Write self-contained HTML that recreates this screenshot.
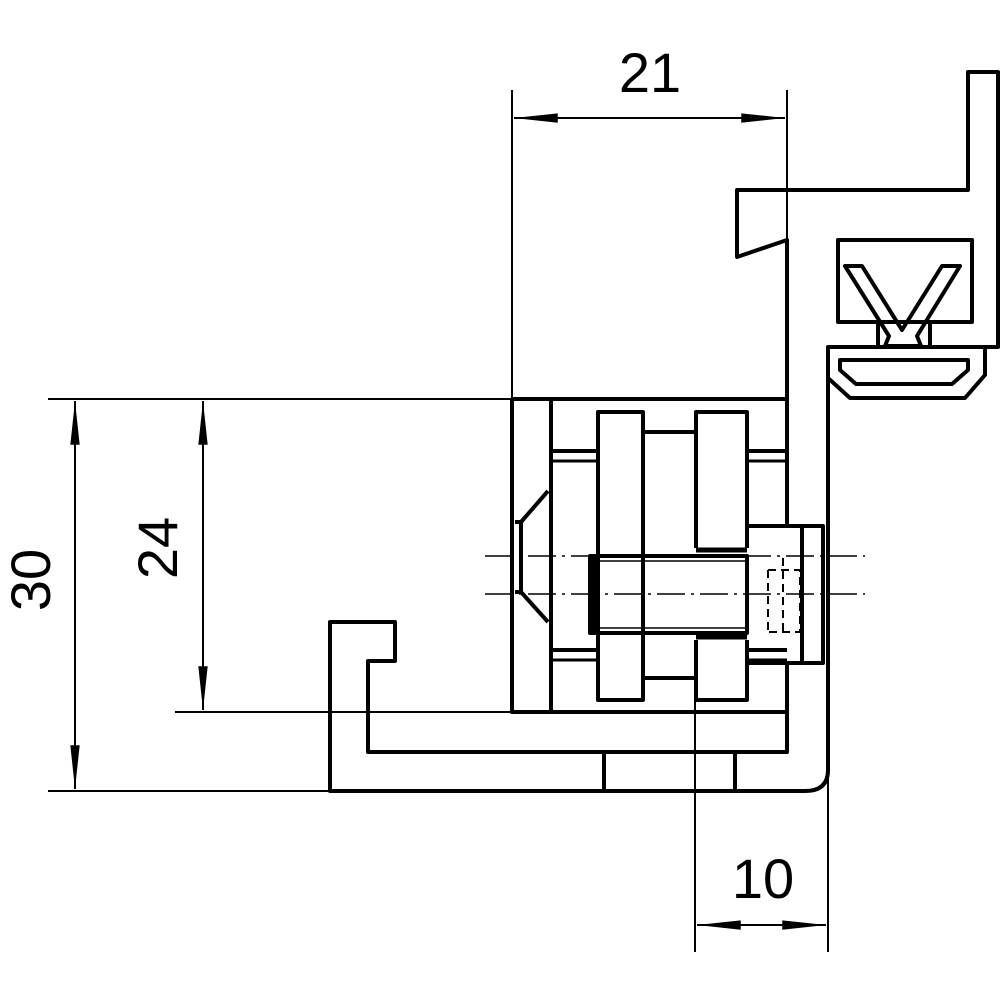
<!DOCTYPE html>
<html><head><style>body{margin:0;background:#fff}svg{display:block}</style></head><body>
<svg width="1000" height="1000" viewBox="0 0 1000 1000" xmlns="http://www.w3.org/2000/svg">
<defs>
<marker id="a" viewBox="0 0 14 4" refX="14" refY="2" markerWidth="44" markerHeight="12.5" markerUnits="userSpaceOnUse" orient="auto-start-reverse"><path d="M0,0.5 L14,2 L0,3.5 Z" fill="#000"/></marker>
</defs>
<g fill="none" stroke="#000" stroke-linejoin="round">
<g stroke-width="2">
<line x1="512" y1="90" x2="512" y2="399"/>
<line x1="787" y1="90" x2="787" y2="240"/>
<line x1="514" y1="118" x2="785" y2="118" marker-start="url(#a)" marker-end="url(#a)"/>
<line x1="48" y1="399" x2="512" y2="399"/>
<line x1="48" y1="791" x2="330" y2="791"/>
<line x1="175" y1="712" x2="512" y2="712"/>
<line x1="75" y1="401" x2="75" y2="789" marker-start="url(#a)" marker-end="url(#a)"/>
<line x1="203" y1="401" x2="203" y2="710" marker-start="url(#a)" marker-end="url(#a)"/>
<line x1="695" y1="678" x2="695" y2="952"/>
<line x1="828" y1="770" x2="828" y2="952"/>
<line x1="697" y1="925" x2="826" y2="925" marker-start="url(#a)" marker-end="url(#a)"/>
</g>
<g stroke-width="1.5" stroke-dasharray="28,6,3,6">
<line x1="485" y1="556" x2="865" y2="556"/>
<line x1="485" y1="594" x2="865" y2="594"/>
</g>
<g stroke-width="4">
<path d="M787,525 L787,240 L737,257 L737,190 L968,190 L968,72 L998,72 L998,347 L828,347 L828,770 Q828,791 805,791 L330,791 L330,622 L395,622 L395,661 L368,661 L368,752 L787,752 L787,663"/>
<rect x="838" y="240" width="134" height="82"/>
<path d="M878,347 L878,322 M930,347 L930,322"/>
<path d="M845,266 L862,266 L902,330 L942,266 L960,266 L917,336 L921,346 L885,346 L889,336 Z"/>
<path d="M828,347 L985,347 L985,375 L965,398 L850,398 L828,378"/>
<path d="M840,360 L968,360 L968,370 L952,384 L856,384 L840,370 Z"/>
<path d="M512,399 L787,399 M512,399 L512,712 L787,712 L787,663"/>
<line x1="551" y1="399" x2="551" y2="712"/>
<rect x="598" y="412" width="45" height="288"/>
<path d="M696,548 L696,412 L747,412 L747,548 M696,640 L696,700 L747,700 L747,640"/>
<path d="M643,432 L696,432 M643,678 L696,678"/>
<path d="M551,451 L598,451 M747,451 L787,451 M551,650 L598,650 M747,650 L787,650"/>
<path d="M551,461 L598,461 M747,461 L787,461 M551,660 L598,660 M747,660 L787,660" stroke-width="3"/>
<path d="M515,522 L521,522 L548,491 M515,592 L521,592 L548,622 M521,522 L521,592"/>
<rect x="590" y="556" width="157" height="77"/>
<line x1="594" y1="558" x2="594" y2="631" stroke-width="6"/>
<path d="M747,526 L823,526 L823,663 L747,663 M802,526 L802,663"/>
<path d="M604,752 L604,791 M735,752 L735,791"/>
</g>
<g stroke-width="1.5">
<path d="M600,561 L745,561 M600,628 L745,628"/>
<line x1="696" y1="550" x2="747" y2="550" stroke-width="5"/>
<line x1="696" y1="637" x2="747" y2="637" stroke-width="5"/>
</g>
<g stroke-width="2" stroke-dasharray="8,5">
<path d="M768,570 L768,632 M768,570 L800,570 L800,632 L768,632 M783,558 L783,632"/>
</g>
</g>
<g font-family="Liberation Sans, sans-serif" font-size="56" fill="#000">
<text x="650" y="92" text-anchor="middle">21</text>
<text x="763" y="898" text-anchor="middle">10</text>
<text transform="translate(50,580) rotate(-90)" text-anchor="middle">30</text>
<text transform="translate(177,548) rotate(-90)" text-anchor="middle">24</text>
</g>
</svg>
</body></html>
